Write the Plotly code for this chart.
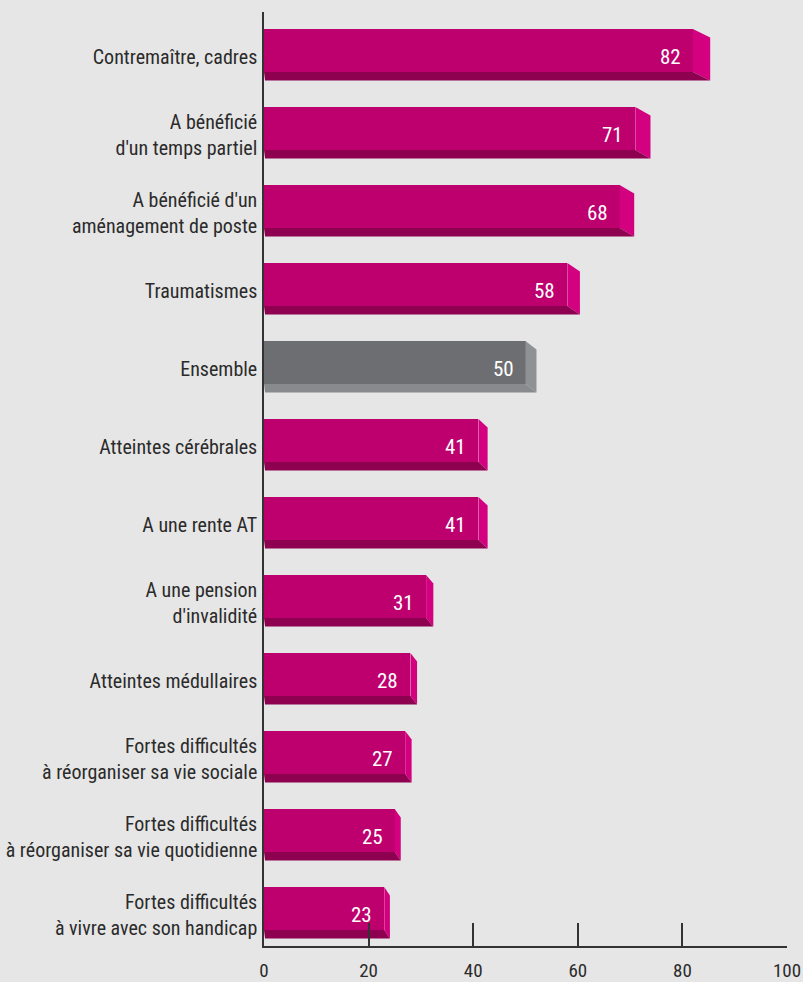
import plotly.graph_objects as go

categories = [
    "Contremaître, cadres",
    "A bénéficié<br>d'un temps partiel",
    "A bénéficié d'un<br>aménagement de poste",
    "Traumatismes",
    "Ensemble",
    "Atteintes cérébrales",
    "A une rente AT",
    "A une pension<br>d'invalidité",
    "Atteintes médullaires",
    "Fortes difficultés<br>à réorganiser sa vie sociale",
    "Fortes difficultés<br>à réorganiser sa vie quotidienne",
    "Fortes difficultés<br>à vivre avec son handicap",
]
values = [82, 71, 68, 58, 50, 41, 41, 31, 28, 27, 25, 23]
highlight = "Ensemble"
x_ticks = [0, 20, 40, 60, 80, 100]

FONT = "Roboto Condensed, Roboto, Liberation Sans, sans-serif"
BG = "#e6e6e6"
TXT = "#2b2b2b"
MAG = dict(front="#bd006e", side="#d3007f", bottom="#8e0050")
GRAY = dict(front="#6d6e71", side="#909194", bottom="#898a8d")

pos = list(range(len(categories)))
half = 0.275      # half bar thickness (category units)
depth_y = 0.109   # 3D depth downwards (category units)


def depth_x(x):
    return 0.2 + 0.038 * x


def palette(cat):
    return GRAY if cat.replace("<br>", " ") == highlight else MAG


fig = go.Figure()

# Front faces of the bars
fig.add_trace(go.Bar(
    y=pos, x=values, orientation="h", width=2 * half,
    marker=dict(color=[palette(c)["front"] for c in categories], line=dict(width=0)),
    hoverinfo="skip", showlegend=False,
))

# 3D right and bottom faces, built from the data values
for i, (c, v) in enumerate(zip(categories, values)):
    pal = palette(c)
    yt, yb = pos[i] - half, pos[i] + half
    dxv = depth_x(v)
    fig.add_trace(go.Scatter(
        x=[v, v + dxv, v + dxv, v, v],
        y=[yt, yt + depth_y, yb + depth_y, yb, yt],
        fill="toself", fillcolor=pal["side"], mode="lines", line=dict(width=0),
        hoverinfo="skip", showlegend=False,
    ))
    fig.add_trace(go.Scatter(
        x=[0, v, v + dxv, depth_x(0), 0],
        y=[yb, yb, yb + depth_y, yb + depth_y, yb],
        fill="toself", fillcolor=pal["bottom"], mode="lines", line=dict(width=0),
        hoverinfo="skip", showlegend=False,
    ))
    fig.add_annotation(
        x=v, y=pos[i], text=str(v), showarrow=False, xanchor="right",
        xshift=-10, yshift=-6,
        font=dict(family=FONT, size=21, color="white"),
    )

fig.update_layout(
    width=803, height=982,
    margin=dict(l=264, r=16, t=12, b=36),
    paper_bgcolor=BG, plot_bgcolor=BG,
    font=dict(family=FONT, size=20, color=TXT),
    bargap=0,
    xaxis=dict(
        range=[0, 100], tickvals=x_ticks, ticks="inside", ticklen=23,
        tickwidth=1.5, tickcolor="#333", showline=True, linecolor="#333",
        linewidth=1.5, showgrid=False, zeroline=False, automargin=False,
        ticklabeloverflow="allow",
        tickfont=dict(family=FONT, size=19, color=TXT),
        ticklabelstandoff=6,
    ),
    yaxis=dict(
        range=[11.48, -0.494], tickvals=[p + 0.08 for p in pos], ticktext=categories,
        ticks="", showline=True, linecolor="#333", linewidth=1.5,
        showgrid=False, zeroline=False, ticklabelstandoff=1, automargin=False,
        ticklabeloverflow="allow",
        tickfont=dict(family=FONT, size=20, color=TXT),
    ),
)

fig.write_html("out.html")
